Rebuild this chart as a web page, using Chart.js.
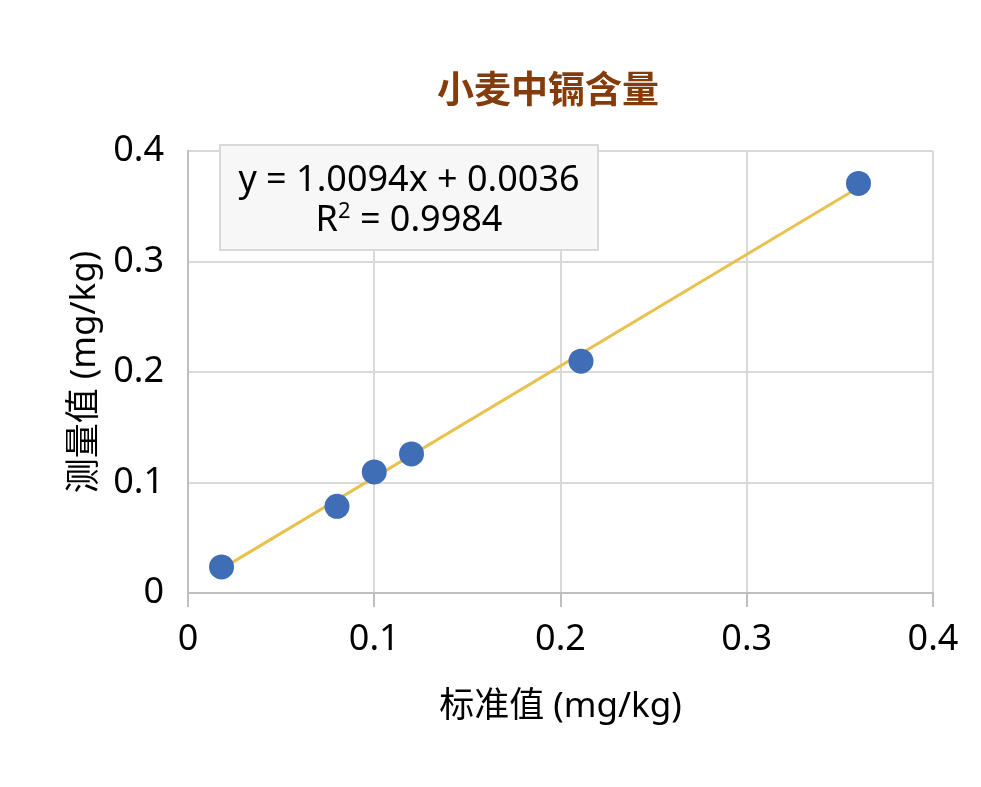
<!DOCTYPE html>
<html>
<head>
<meta charset="utf-8">
<script src="https://cdn.jsdelivr.net/npm/chart.js@4"></script>
<style>
  html, body { margin: 0; padding: 0; background: #fff; }
  #wrap { width: 981px; height: 787px; }
</style>
</head>
<body>
<div id="wrap"><canvas id="chartCd" width="981" height="787"></canvas></div>
<script>
// data
const standardValues = [0.018, 0.080, 0.100, 0.120, 0.211, 0.360];
const measuredValues = [0.0236, 0.0784, 0.1096, 0.1259, 0.2098, 0.3707];
// trend line end points (x, y), from the equation shown
const trendX = [0.018, 0.360];
const trendY = [0.0218, 0.3670];
const xTicks = [0, 0.1, 0.2, 0.3, 0.4];
const yTicks = [0, 0.1, 0.2, 0.3, 0.4];

const chartTitle = "小麦中镉含量";
const xTitle = "标准值 (mg/kg)";
const yTitle = "测量值 (mg/kg)";
const eqLine = "y = 1.0094x + 0.0036";
const r2Value = "0.9984";

const FONT = '"Noto Sans", "Noto Sans CJK SC", sans-serif';

const overlay = {
    id: "overlay",
    afterDraw(chart) {
        const ctx = chart.ctx;
        const a = chart.chartArea;
        ctx.save();
        // title
        ctx.fillStyle = "#843C0C";
        ctx.font = 'bold 37px "Noto Sans CJK SC", sans-serif';
        ctx.textAlign = "center";
        ctx.textBaseline = "middle";
        ctx.fillText(chartTitle, 548, 89);

        // equation box
        const bx = a.left + 32, by = a.top - 6, bw = 378, bh = 105;
        ctx.fillStyle = "#f7f7f7";
        ctx.fillRect(bx, by, bw, bh);
        ctx.strokeStyle = "#d9d9d9";
        ctx.lineWidth = 2;
        ctx.strokeRect(bx, by, bw, bh);

        const cx = bx + bw / 2;
        ctx.fillStyle = "#000";
        ctx.font = "36px " + FONT;
        ctx.textBaseline = "alphabetic";
        ctx.textAlign = "center";
        ctx.fillText(eqLine, cx, by + 46);

        // R² line
        const big = "36px " + FONT, small = "22px " + FONT;
        ctx.font = big;
        const wR = ctx.measureText("R").width;
        const wRest = ctx.measureText(" = " + r2Value).width;
        ctx.font = small;
        const w2 = ctx.measureText("2").width;
        let x = cx - (wR + w2 + wRest) / 2;
        const base = by + 86;
        ctx.textAlign = "left";
        ctx.font = big;
        ctx.fillText("R", x, base);
        x += wR;
        ctx.font = small;
        ctx.fillText("2", x, base - 13);
        x += w2;
        ctx.font = big;
        ctx.fillText(" = " + r2Value, x, base);
        ctx.restore();
    }
};

document.addEventListener("DOMContentLoaded", function () {
    const canvas = document.getElementById("chartCd");

    new Chart(canvas, {
        type: "scatter",
        data: {
            datasets: [{
                label: "测量值",
                data: standardValues.map((v, i) => ({ x: v, y: measuredValues[i] })),
                backgroundColor: "#3f6eb6",
                borderWidth: 0,
                pointRadius: 12.5,
                order: 1
            }, {
                label: "线性",
                data: trendX.map((v, i) => ({ x: v, y: trendY[i] })),
                showLine: true,
                borderColor: "#e8c14f",
                borderWidth: 3,
                pointRadius: 0,
                order: 2
            }]
        },
        options: {
            responsive: false,
            animation: false,
            layout: { padding: { left: 0, top: 151, right: 48, bottom: 0 } },
            plugins: {
                legend: { display: false },
                tooltip: { enabled: false }
            },
            scales: {
                x: {
                    type: "linear",
                    min: 0, max: 0.4,
                    afterFit: s => { s.height = 194; },
                    afterBuildTicks: s => { s.ticks = xTicks.map(v => ({ value: v })); },
                    grid: { color: "#d9d9d9", lineWidth: 2, drawTicks: true, tickLength: 14, tickColor: "#bfbfbf", tickWidth: 2 },
                    border: { color: "#bfbfbf", width: 2 },
                    ticks: { color: "#000", font: { family: FONT, size: 36 }, padding: 11, maxRotation: 0 },
                    title: { display: true, text: xTitle, color: "#000", font: { family: FONT, size: 35 }, padding: { top: 0, bottom: 59 } }
                },
                y: {
                    type: "linear",
                    min: 0, max: 0.4,
                    afterFit: s => { s.width = 188; },
                    afterBuildTicks: s => { s.ticks = yTicks.map(v => ({ value: v })); },
                    grid: { color: "#d9d9d9", lineWidth: 2, drawTicks: false },
                    border: { color: "#bfbfbf", width: 2 },
                    ticks: { color: "#000", font: { family: FONT, size: 36 }, padding: 24 },
                    title: { display: true, text: yTitle, color: "#000", font: { family: FONT, size: 35 }, padding: { top: 64, bottom: 0 } }
                }
            }
        },
        plugins: [overlay]
    });
});
</script>
</body>
</html>
